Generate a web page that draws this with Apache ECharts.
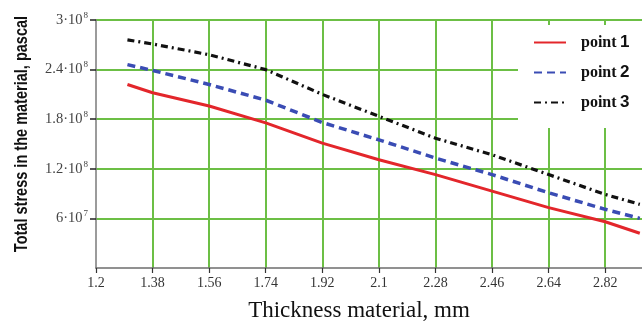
<!DOCTYPE html>
<html>
<head>
<meta charset="utf-8">
<script src="https://cdn.jsdelivr.net/npm/echarts@6/dist/echarts.min.js"></script>
<style>
html,body{margin:0;padding:0;background:#fff;}
#chart{width:642px;height:325px;}
</style>
</head>
<body>
<div id="chart"></div>
<script>
// ---- data ----
const thickness = [1.3, 1.38, 1.56, 1.74, 1.92, 2.1, 2.28, 2.46, 2.64, 2.82, 2.93];
const point1 = [2.22e8, 2.12e8, 1.96e8, 1.755e8, 1.51e8, 1.31e8, 1.13e8, 0.93e8, 0.73e8, 0.56e8, 0.42e8];
const point2 = [2.46e8, 2.39e8, 2.22e8, 2.03e8, 1.76e8, 1.55e8, 1.33e8, 1.13e8, 0.91e8, 0.71e8, 0.60e8];
const point3 = [2.76e8, 2.71e8, 2.58e8, 2.40e8, 2.10e8, 1.835e8, 1.57e8, 1.37e8, 1.13e8, 0.89e8, 0.77e8];
const seriesNames = ['point 1', 'point 2', 'point 3'];
const xTickLabels = ['1.2', '1.38', '1.56', '1.74', '1.92', '2.1', '2.28', '2.46', '2.64', '2.82'];
const yTickValues = [6e7, 1.2e8, 1.8e8, 2.4e8, 3e8];
const yTickMantissa = ['6\u00b710', '1.2\u00b710', '1.8\u00b710', '2.4\u00b710', '3\u00b710'];
const yTickExponent = ['7', '8', '8', '8', '8'];
const xTitle = 'Thickness material, mm';
const yTitle = 'Total stress in the material, pascal';

function pairs(vals) { return thickness.map((x, i) => [x, vals[i]]); }

const chart = echarts.init(document.getElementById('chart'), null, {renderer: 'canvas'});
const green = '#6cbf45';
const option = {
  backgroundColor: '#fff',
  animation: false,
  grid: {left: 96, right: -2, top: 20, bottom: 57},
  xAxis: {
    type: 'value', min: 1.2, max: 2.937, interval: 0.18,
    axisLine: {show: true, lineStyle: {color: '#6e6e6e', width: 1.5}},
    axisTick: {show: true, length: 5, lineStyle: {color: '#333', width: 1.2}},
    splitLine: {show: true, showMinLine: false, showMaxLine: false, lineStyle: {color: green, width: 2}},
    axisLabel: {
      margin: 8, color: '#333', fontFamily: 'Liberation Serif, serif', fontSize: 14,
      showMaxLabel: false,
      formatter: function (v) {
        for (const t of xTickLabels) { if (Math.abs(parseFloat(t) - v) < 1e-6) return t; }
        return '';
      }
    }
  },
  yAxis: {
    type: 'value', min: 0, max: 3e8, interval: 6e7,
    axisLine: {show: true, lineStyle: {color: '#7a7a7a', width: 1.5}},
    axisTick: {show: true, length: 6, lineStyle: {color: '#222', width: 1.5}},
    splitLine: {show: true, showMinLine: false, lineStyle: {color: green, width: 2}},
    axisLabel: {
      margin: 8, showMinLabel: false,
      formatter: function (v) {
        for (let i = 0; i < yTickValues.length; i++) {
          if (Math.abs(yTickValues[i] - v) < 1) return '{m|' + yTickMantissa[i] + '}{e|' + yTickExponent[i] + '}';
        }
        return '';
      },
      rich: {
        m: {color: '#444', fontFamily: 'Liberation Serif, serif', fontSize: 14.5},
        e: {color: '#444', fontFamily: 'Liberation Serif, serif', fontSize: 9, padding: [0, 0, 9, 1]}
      }
    }
  },
  legend: {
    left: 518, top: 25, orient: 'vertical',
    padding: [9, 14, 17, 15],
    backgroundColor: '#fff',
    itemWidth: 32, itemHeight: 14, itemGap: 13,
    data: seriesNames,
    itemStyle: {opacity: 0},
    formatter: function (name) {
      const parts = name.split(' ');
      return '{s|}{p|' + parts[0] + '} {n|' + parts[1] + '}';
    },
    textStyle: {
      rich: {
        s: {width: 10},
        p: {fontFamily: 'Liberation Serif, serif', fontWeight: 'bold', fontSize: 16, color: '#111'},
        n: {fontFamily: 'Liberation Sans, Arial, sans-serif', fontWeight: 'bold', fontSize: 17, color: '#111'}
      }
    }
  },
  series: [
    {name: seriesNames[0], type: 'line', data: pairs(point1), symbol: 'none', z: 3,
     lineStyle: {color: '#e3262b', width: 3, type: 'solid'}, itemStyle: {color: '#e3262b'}},
    {name: seriesNames[1], type: 'line', data: pairs(point2), symbol: 'none', z: 3,
     lineStyle: {color: '#3a4cb4', width: 3.5, type: [8, 5]}, itemStyle: {color: '#3a4cb4'}},
    {name: seriesNames[2], type: 'line', data: pairs(point3), symbol: 'none', z: 3,
     lineStyle: {color: '#111', width: 3.2, type: [7, 4, 2, 4]}, itemStyle: {color: '#111'}}
  ],
  graphic: [
    {type: 'text', x: 22, y: 134, rotation: Math.PI / 2, scaleX: 0.83,
     style: {text: yTitle, textAlign: 'center', textVerticalAlign: 'middle',
             font: 'bold 17.5px "Liberation Sans", Arial, sans-serif', fill: '#111'}},
    {type: 'text', x: 359, y: 311,
     style: {text: xTitle, textAlign: 'center', textVerticalAlign: 'middle',
             font: '23px "Liberation Serif", serif', fill: '#111'}}
  ]
};
chart.setOption(option);
</script>
</body>
</html>
